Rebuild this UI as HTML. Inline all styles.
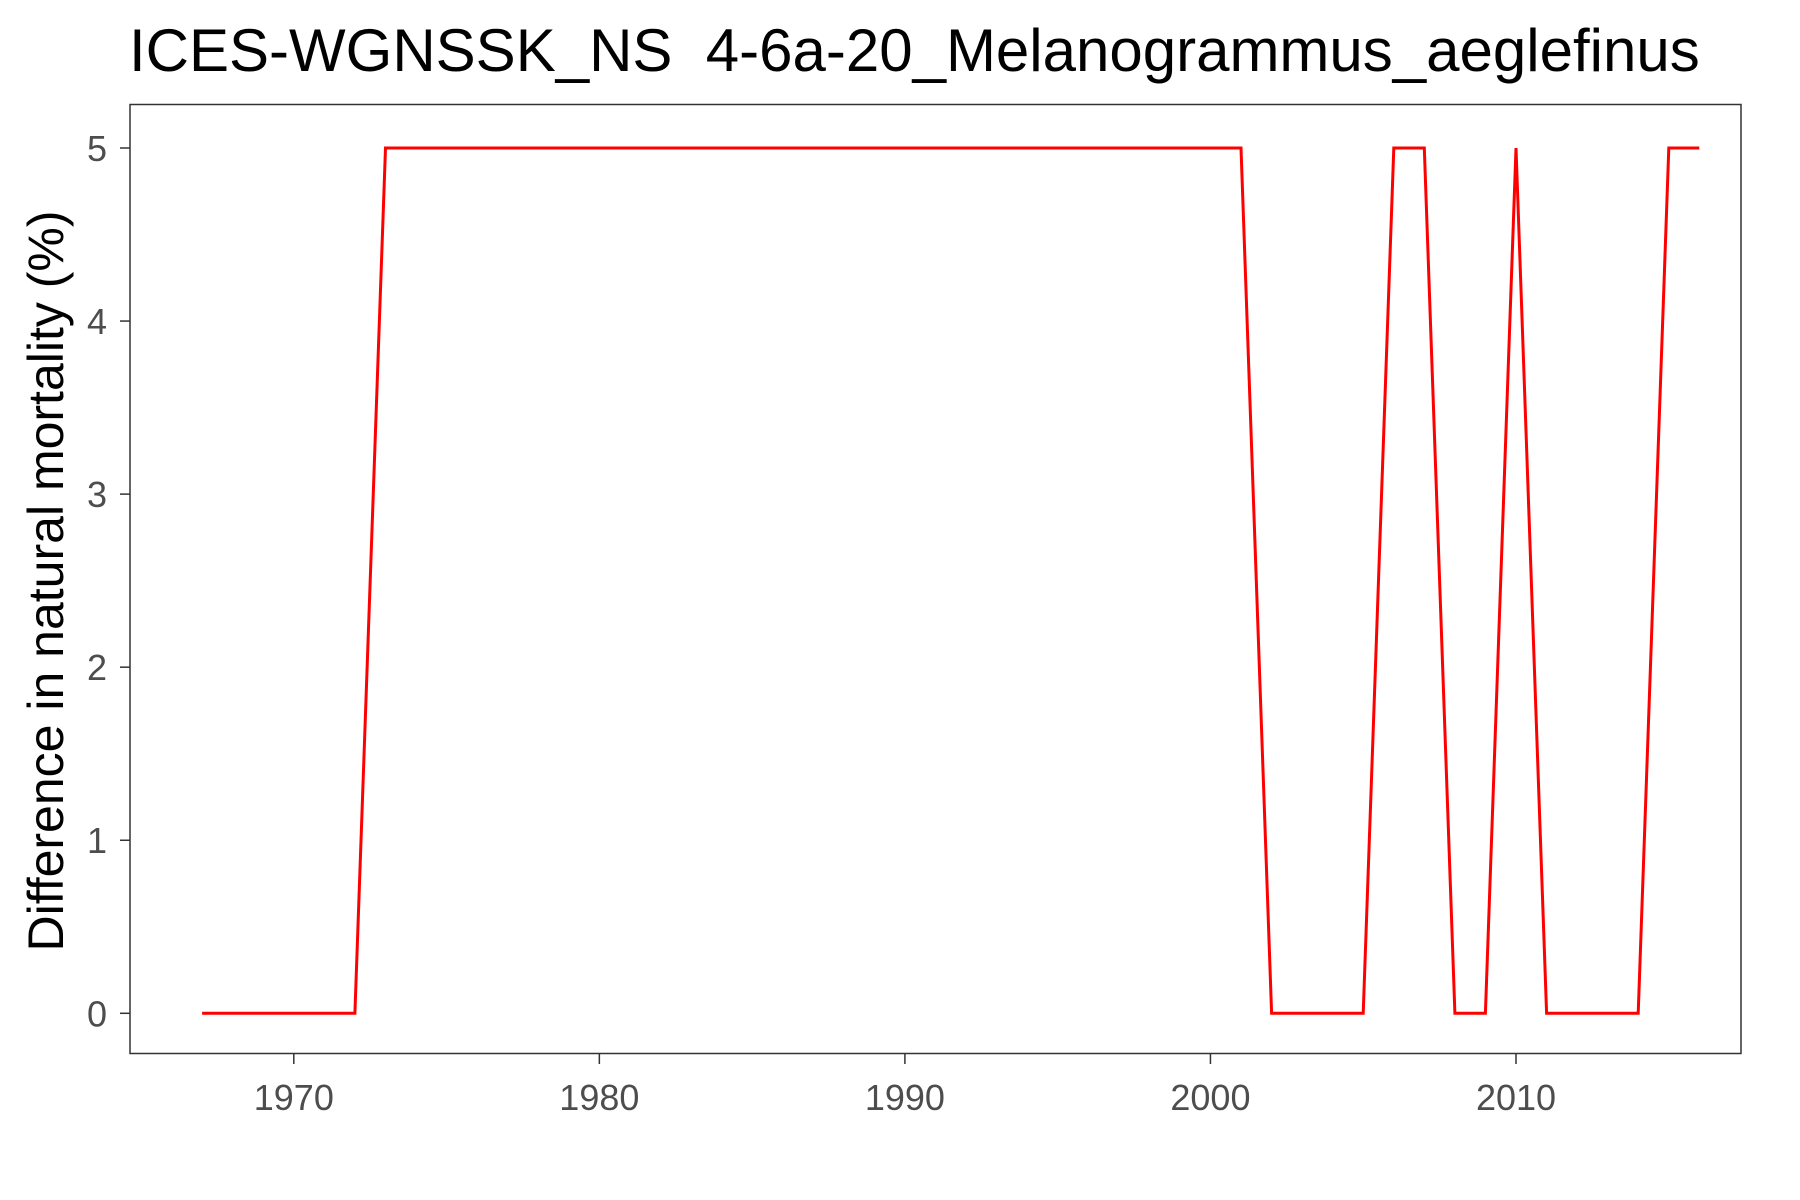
<!DOCTYPE html>
<html><head><meta charset="utf-8"><style>
html,body{margin:0;padding:0;background:#fff;}
svg{display:block;font-family:"Liberation Sans",Arial,sans-serif;}
</style></head><body>
<svg id="chart" width="1800" height="1200" viewBox="0 0 1800 1200">
<rect width="1800" height="1200" fill="#fff"/>
<text x="129" y="71" font-size="60" fill="#000" style="white-space:pre" xml:space="preserve">ICES-WGNSSK_NS  4-6a-20_Melanogrammus_aeglefinus</text>
<rect x="130" y="104.5" width="1611" height="949" fill="none" stroke="#333" stroke-width="1.5"/>
<g id="yticks"></g>
<g id="xticks"></g>
<text transform="translate(63,581) rotate(-90)" text-anchor="middle" font-size="50" fill="#000">Difference in natural mortality (%)</text>
<path id="line" fill="none" stroke="#ff0000" stroke-width="3"/>
</svg>
<script>
const years = [];
for (let y = 1967; y <= 2016; y++) years.push(y);
const values = [0,0,0,0,0,0, 5,5,5,5,5,5,5,5,5,5,5,5,5,5,5,5,5,5,5,5,5,5,5,5,5,5,5,5,5, 0,0,0,0, 5,5, 0,0, 5, 0,0,0,0, 5,5];
const yTicks = [0,1,2,3,4,5];
const xTicks = [1970,1980,1990,2000,2010];
const ns = "http://www.w3.org/2000/svg";
function xs(v){ return 293.8 + (v - 1970) * (1516 - 293.8) / 40; }
function ys(v){ return 1013.3 - v * (1013.3 - 148) / 5; }
const yg = document.getElementById('yticks');
yTicks.forEach(t => {
  const l = document.createElementNS(ns,'line');
  l.setAttribute('x1',120); l.setAttribute('x2',130); l.setAttribute('y1',ys(t)); l.setAttribute('y2',ys(t));
  l.setAttribute('stroke','#333'); l.setAttribute('stroke-width',1.5);
  
  
  yg.appendChild(l);
  const tx = document.createElementNS(ns,'text');
  tx.setAttribute('x',107); tx.setAttribute('y',ys(t)+13); tx.setAttribute('text-anchor','end');
  tx.setAttribute('font-size',36); tx.setAttribute('fill','#4d4d4d');
  tx.textContent = t;
  
  
  yg.appendChild(tx);
});
const xg = document.getElementById('xticks');
xTicks.forEach(t => {
  const l = document.createElementNS(ns,'line');
  l.setAttribute('x1',xs(t)); l.setAttribute('x2',xs(t)); l.setAttribute('y1',1054); l.setAttribute('y2',1064);
  l.setAttribute('stroke','#333'); l.setAttribute('stroke-width',1.5);
  
  
  xg.appendChild(l);
  const tx = document.createElementNS(ns,'text');
  tx.setAttribute('x',xs(t)); tx.setAttribute('y',1110); tx.setAttribute('text-anchor','middle');
  tx.setAttribute('font-size',36); tx.setAttribute('fill','#4d4d4d');
  tx.textContent = t;
  
  
  xg.appendChild(tx);
});
document.getElementById('line').setAttribute('d', years.map((y,i)=>(i?'L':'M')+xs(y).toFixed(1)+','+ys(values[i]).toFixed(1)).join(' '));
</script>
</body></html>
